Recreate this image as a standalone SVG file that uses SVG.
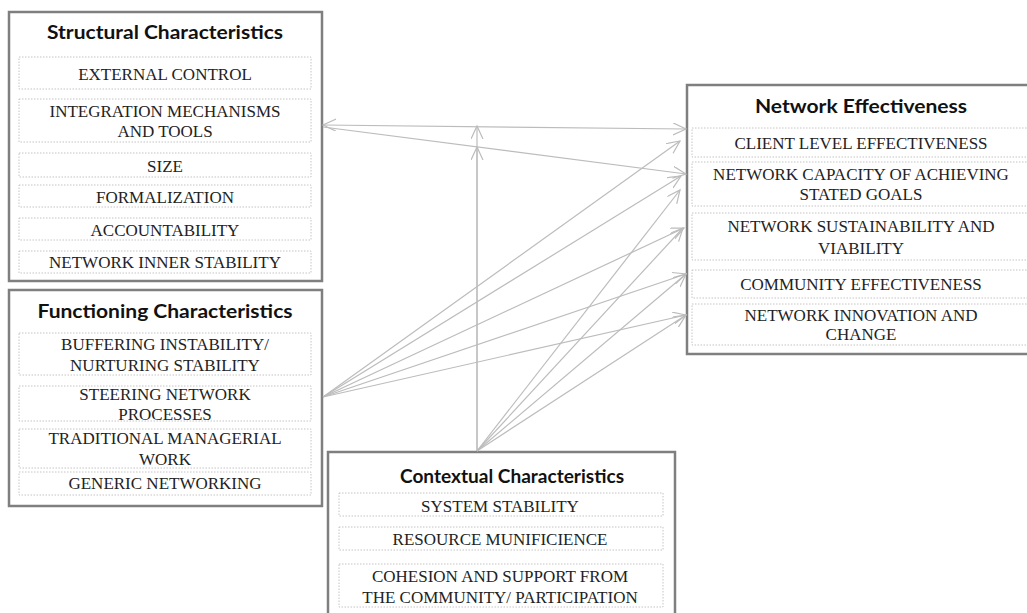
<svg xmlns="http://www.w3.org/2000/svg" width="1027" height="613" viewBox="0 0 1027 613">
<style>
.outer{fill:#fff;stroke:#7f7f7f;stroke-width:2.5}
.item{fill:none;stroke:#c4c4c4;stroke-width:1;stroke-dasharray:1.5 1.5}
.con{fill:none;stroke:#bcbcbc;stroke-width:1.2}
</style>
<defs>
<marker id="arr" markerUnits="userSpaceOnUse" markerWidth="16" markerHeight="14" refX="13" refY="6" orient="auto-start-reverse" viewBox="0 0 16 14">
<path d="M0,0 L13,6 L0,12" fill="none" stroke="#bcbcbc" stroke-width="1.2"/>
</marker>
</defs>
<rect width="1027" height="613" fill="#fff"/>

<g id="structural">
<rect class="outer" x="9" y="12" width="313" height="269"/>
<text x="165" y="39" font-family="Lato, sans-serif" font-weight="bold" font-size="19" fill="#111" text-anchor="middle" textLength="236" lengthAdjust="spacingAndGlyphs">Structural Characteristics</text>
<rect class="item" x="19" y="57" width="292" height="32"/>
<rect class="item" x="19" y="99" width="292" height="43"/>
<rect class="item" x="19" y="153" width="292" height="24"/>
<rect class="item" x="19" y="185" width="292" height="22"/>
<rect class="item" x="19" y="218" width="292" height="22"/>
<rect class="item" x="19" y="251" width="292" height="22"/>
<g font-family="Liberation Serif, serif" font-size="17" fill="#222" text-anchor="middle">
<text x="165" y="80">EXTERNAL CONTROL</text>
<text x="165" y="117">INTEGRATION MECHANISMS</text>
<text x="165" y="137">AND TOOLS</text>
<text x="165" y="172">SIZE</text>
<text x="165" y="203">FORMALIZATION</text>
<text x="165" y="236">ACCOUNTABILITY</text>
<text x="165" y="268">NETWORK INNER STABILITY</text>
</g>
</g>

<g id="functioning">
<rect class="outer" x="9" y="290" width="313" height="216"/>
<text x="165" y="318" font-family="Lato, sans-serif" font-weight="bold" font-size="19" fill="#111" text-anchor="middle" textLength="255" lengthAdjust="spacingAndGlyphs">Functioning Characteristics</text>
<rect class="item" x="19" y="333" width="292" height="42"/>
<rect class="item" x="19" y="386" width="292" height="35"/>
<rect class="item" x="19" y="429" width="292" height="39"/>
<rect class="item" x="19" y="472" width="292" height="23"/>
<g font-family="Liberation Serif, serif" font-size="17" fill="#222" text-anchor="middle">
<text x="165" y="350">BUFFERING INSTABILITY/</text>
<text x="165" y="371">NURTURING STABILITY</text>
<text x="165" y="400">STEERING NETWORK</text>
<text x="165" y="420">PROCESSES</text>
<text x="165" y="444">TRADITIONAL MANAGERIAL</text>
<text x="165" y="465">WORK</text>
<text x="165" y="489">GENERIC NETWORKING</text>
</g>
</g>

<g id="contextual">
<rect class="outer" x="328" y="452" width="347" height="170"/>
<text x="512" y="483" font-family="Lato, sans-serif" font-weight="bold" font-size="19" fill="#111" text-anchor="middle" textLength="224" lengthAdjust="spacingAndGlyphs">Contextual Characteristics</text>
<rect class="item" x="339" y="493" width="324" height="23"/>
<rect class="item" x="339" y="527" width="324" height="23"/>
<rect class="item" x="339" y="564" width="324" height="43"/>
<g font-family="Liberation Serif, serif" font-size="17" fill="#222" text-anchor="middle">
<text x="500" y="512">SYSTEM STABILITY</text>
<text x="500" y="545">RESOURCE MUNIFICIENCE</text>
<text x="500" y="582">COHESION AND SUPPORT FROM</text>
<text x="500" y="603">THE COMMUNITY/ PARTICIPATION</text>
</g>
</g>

<g id="network">
<rect class="outer" x="687" y="85" width="350" height="269"/>
<text x="861" y="113" font-family="Lato, sans-serif" font-weight="bold" font-size="19" fill="#111" text-anchor="middle" textLength="212" lengthAdjust="spacingAndGlyphs">Network Effectiveness</text>
<rect class="item" x="692" y="128" width="340" height="29"/>
<rect class="item" x="692" y="162" width="340" height="44"/>
<rect class="item" x="692" y="213" width="340" height="47"/>
<rect class="item" x="692" y="270" width="340" height="28"/>
<rect class="item" x="692" y="304" width="340" height="41"/>
<g font-family="Liberation Serif, serif" font-size="17" fill="#222" text-anchor="middle">
<text x="861" y="149">CLIENT LEVEL EFFECTIVENESS</text>
<text x="861" y="180">NETWORK CAPACITY OF ACHIEVING</text>
<text x="861" y="200">STATED GOALS</text>
<text x="861" y="232">NETWORK SUSTAINABILITY AND</text>
<text x="861" y="254">VIABILITY</text>
<text x="861" y="290">COMMUNITY EFFECTIVENESS</text>
<text x="861" y="321">NETWORK INNOVATION AND</text>
<text x="861" y="340">CHANGE</text>
</g>
</g>

<g id="connectors">
<line class="con" x1="323" y1="125" x2="686" y2="129" marker-start="url(#arr)" marker-end="url(#arr)"/>
<line class="con" x1="323" y1="127" x2="686" y2="174" marker-end="url(#arr)"/>
<line class="con" x1="477" y1="451" x2="477" y2="126" marker-end="url(#arr)"/>
<line class="con" x1="477" y1="451" x2="477" y2="147" marker-end="url(#arr)"/>
<line class="con" x1="323" y1="397" x2="680" y2="141" marker-end="url(#arr)"/>
<line class="con" x1="323" y1="397" x2="681" y2="176" marker-end="url(#arr)"/>
<line class="con" x1="323" y1="397" x2="684" y2="228" marker-end="url(#arr)"/>
<line class="con" x1="323" y1="397" x2="686" y2="274" marker-end="url(#arr)"/>
<line class="con" x1="323" y1="397" x2="686" y2="315" marker-end="url(#arr)"/>
<line class="con" x1="477" y1="451" x2="680" y2="190" marker-end="url(#arr)"/>
<line class="con" x1="477" y1="451" x2="683" y2="228" marker-end="url(#arr)"/>
<line class="con" x1="477" y1="451" x2="686" y2="274" marker-end="url(#arr)"/>
<line class="con" x1="477" y1="451" x2="686" y2="315" marker-end="url(#arr)"/>
</g>
</svg>
